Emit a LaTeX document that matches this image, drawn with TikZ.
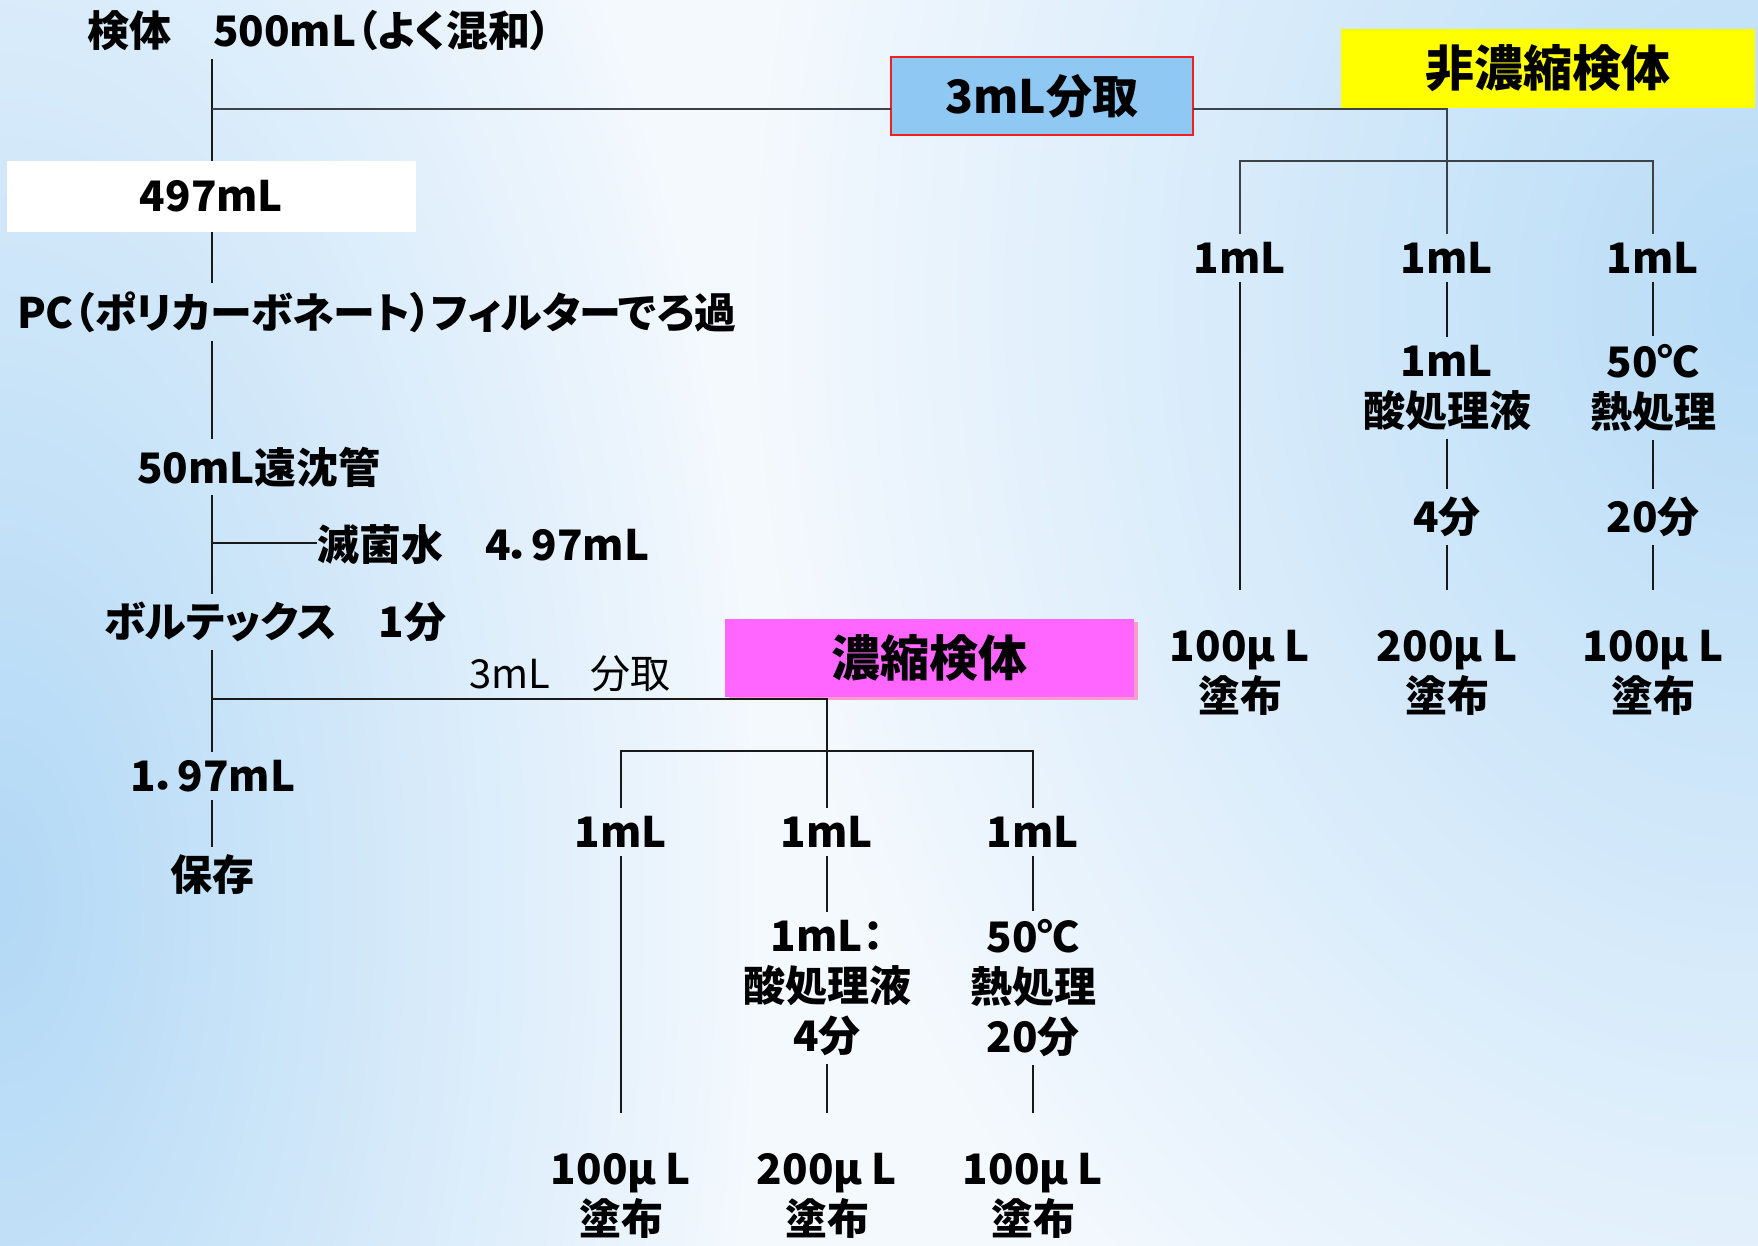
\documentclass[tikz,border=0pt]{standalone}
\usepackage{fontspec}
\setmainfont{Noto Sans CJK JP}[RawFeature=+palt]
\usetikzlibrary{fadings}
\definecolor{bgbase}{HTML}{F4F9FE}
\definecolor{bgblue}{HTML}{B3D9F6}
\definecolor{bgblueR}{HTML}{B8DCF7}
\definecolor{bgband}{HTML}{C6E2F8}
\definecolor{boxblue}{HTML}{8EC8F3}
\definecolor{boxred}{HTML}{F02020}
\definecolor{boxyellow}{HTML}{FFFF00}
\definecolor{boxpink}{HTML}{FF66FF}
\definecolor{pinkshadow}{HTML}{FF9ACD}
\definecolor{linegray}{HTML}{3C4248}
\tikzfading[name=radfade, inner color=transparent!0, outer color=transparent!100]
\tikzfading[name=bandfade, top color=transparent!100, middle color=transparent!25, bottom color=transparent!100]
\begin{document}
\begin{tikzpicture}[x=1pt,y=-1pt,
  every node/.style={inner sep=0pt, outer sep=0pt},
  txt/.style={font=\bfseries\fontsize{42}{50}\selectfont, align=center, outer ysep=8pt},
  txtr/.style={font=\fontsize{40}{50}\selectfont, align=center},
  far/.style={outer ysep=40pt},
  ln/.style={draw=black!90, line width=1.5pt},
  lnb/.style={draw=linegray, line width=2.2pt},
  whitebox/.style={fill=white, minimum width=409pt, minimum height=71pt, font=\bfseries\fontsize{42}{50}\selectfont},
  bluebox/.style={fill=boxblue, draw=boxred, line width=2pt, minimum width=302pt, minimum height=78pt, font=\bfseries\fontsize{46}{50}\selectfont},
  yellowbox/.style={fill=boxyellow, minimum width=414pt, minimum height=79pt, font=\bfseries\fontsize{49}{50}\selectfont},
  pinkbox/.style={fill=boxpink, minimum width=409pt, minimum height=78pt, font=\bfseries\fontsize{49}{50}\selectfont}
]
\useasboundingbox (0,0) rectangle (1758,1246);
% background
\fill[bgbase] (0,0) rectangle (1758,1246);
\fill[bgblue, path fading=radfade] (0,900) ellipse [x radius=760, y radius=1500];
\fill[bgblueR, path fading=radfade] (1758,300) ellipse [x radius=1000, y radius=1300];
\fill[bgband, path fading=bandfade] (0,760) rectangle (1758,980);

% coordinates
\coordinate (jTop) at (212,109);
\coordinate (jW) at (212,543);
\coordinate (jS) at (212,699);
\coordinate (jR) at (1447,109);
\coordinate (barRL) at (1240,161);
\coordinate (barRR) at (1653,161);
\coordinate (jS2) at (827,699);
\coordinate (barBL) at (621,751);
\coordinate (barBR) at (1033,751);

% left spine nodes
\node[txt, anchor=west] (t0) at (87,31) {検体　500mL（よく混和）};
\node[whitebox] (b497) at (211.5,196.5) {497mL};
\node[txt, anchor=west] (pc) at (17,312) {PC（ポリカーボネート）フィルターでろ過};
\node[txt, anchor=west] (m50) at (137,467) {50mL遠沈管};
\node[txt, anchor=west] (water) at (317,545) {滅菌水　4．97mL};
\node[txt, anchor=west] (vortex) at (104,622) {ボルテックス　1分};
\node[txt] (r197) at (213,776) {1．97mL};
\node[txt] (keep) at (212,875) {保存};
\node[txtr] (split3) at (570,674) {3mL　分取};

% boxes
\node[bluebox] (box3) at (1042,96) {3mL分取};
\node[yellowbox] (yellow) at (1548,68.5) {非濃縮検体};
\fill[pinkshadow] (729,622) rectangle (1138,700);
\node[pinkbox] (pink) at (929.5,658) {濃縮検体};

% right group
\node[txt] (ra1) at (1240,258) {1mL};
\node[txt] (rb1) at (1447,258) {1mL};
\node[txt] (rc1) at (1653,258) {1mL};
\node[txt] (rb2) at (1447,388) {1mL\\酸処理液};
\node[txt] (rc2) at (1653,388) {50℃\\熱処理};
\node[txt] (rb3) at (1447,517) {4分};
\node[txt] (rc3) at (1653,517) {20分};
\node[txt, far] (ra4) at (1240,673) {100μ L\\塗布};
\node[txt, far] (rb4) at (1447,673) {200μ L\\塗布};
\node[txt, far] (rc4) at (1653,673) {100μ L\\塗布};

% bottom group
\node[txt] (ba1) at (621,832) {1mL};
\node[txt] (bb1) at (827,832) {1mL};
\node[txt] (bc1) at (1033,832) {1mL};
\node[txt] (bb2) at (827,988) {1mL：\\酸処理液\\4分};
\node[txt] (bc2) at (1033,988) {50℃\\熱処理\\20分};
\node[txt, far] (ba4) at (621,1196) {100μ L\\塗布};
\node[txt, far] (bb4) at (827,1196) {200μ L\\塗布};
\node[txt, far] (bc4) at (1033,1196) {100μ L\\塗布};

% spine connectors
\draw[ln] (t0.south -| jTop) -- (b497.north -| jTop);
\draw[ln] (b497.south -| jTop) -- (pc.north -| jTop);
\draw[ln] (pc.south -| jTop) -- (m50.north -| jTop);
\draw[ln] (m50.south -| jTop) -- (vortex.north -| jTop);
\draw[ln] (jW) -- (jW -| water.west);
\draw[ln] (vortex.south -| jTop) -- (r197.north -| jTop);
\draw[ln] (r197.south -| jTop) -- (keep.north -| jTop);

% top branch
\draw[lnb] (jTop) -- (jTop -| box3.west);
\draw[lnb] (jTop -| box3.east) -- (jR) -- (rb1.north);
\draw[lnb] (ra1.north) -- (barRL) -- (barRR) -- (rc1.north);
\draw[ln] (ra1.south) -- (ra4.north);
\draw[ln] (rb1.south) -- (rb2.north);
\draw[ln] (rb2.south) -- (rb3.north);
\draw[ln] (rb3.south) -- (rb4.north);
\draw[ln] (rc1.south) -- (rc2.north);
\draw[ln] (rc2.south) -- (rc3.north);
\draw[ln] (rc3.south) -- (rc4.north);

% lower branch
\draw[ln] (jS) -- (jS2) -- (bb1.north);
\draw[ln] (ba1.north) -- (barBL) -- (barBR) -- (bc1.north);
\draw[ln] (ba1.south) -- (ba4.north);
\draw[ln] (bb1.south) -- (bb2.north);
\draw[ln] (bb2.south) -- (bb4.north);
\draw[ln] (bc1.south) -- (bc2.north);
\draw[ln] (bc2.south) -- (bc4.north);
\end{tikzpicture}
\end{document}
